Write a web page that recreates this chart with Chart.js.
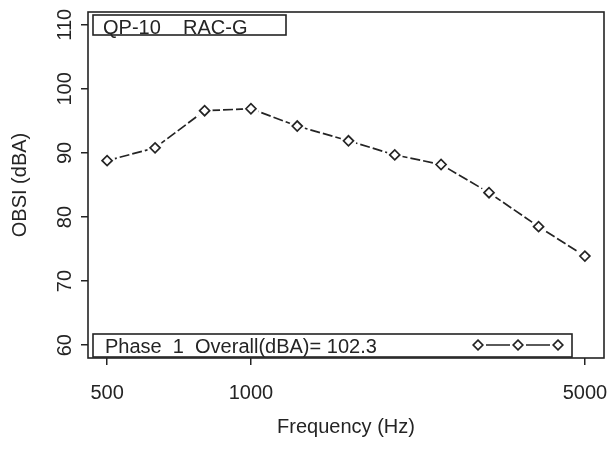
<!DOCTYPE html>
<html>
<head>
<meta charset="utf-8">
<script src="https://cdn.jsdelivr.net/npm/chart.js@4"></script>
<style>
html, body { margin: 0; padding: 0; background: #fff; }
</style>
</head>
<body>
<canvas id="obsiChart" width="612" height="449"></canvas>
<script>
// one-third octave bands and the OBSI levels
const freqs = [500, 630, 800, 1000, 1250, 1600, 2000, 2500, 3150, 4000, 5000];
const obsi = [88.8, 90.8, 96.6, 96.9, 94.2, 91.9, 89.7, 88.2, 83.8, 78.5, 73.9];
const xTicks = [500, 1000, 5000];
const yTicks = [60, 70, 80, 90, 100, 110];
const boxTitle = 'QP-10    RAC-G';
const legendText = 'Phase  1  Overall(dBA)= 102.3';

const FONT = '"Liberation Sans", Arial, sans-serif';
const INK = '#242424';

const points = freqs.map((f, i) => ({ x: f, y: obsi[i] }));

// R style 4% axis extension on the log x axis
const lx0 = Math.log10(Math.min(...freqs));
const lx1 = Math.log10(Math.max(...freqs));
const xPad = (lx1 - lx0) * 0.04;

function diamond(ctx, x, y, r) {
  ctx.beginPath();
  ctx.moveTo(x, y - r);
  ctx.lineTo(x + r, y);
  ctx.lineTo(x, y + r);
  ctx.lineTo(x - r, y);
  ctx.closePath();
  ctx.fillStyle = '#fff';
  ctx.fill();
  ctx.stroke();
}

// frame, rotated y labels, and the two boxed notes
const rFrame = {
  id: 'rFrame',
  afterDraw(chart) {
    const { ctx, chartArea: a, scales } = chart;
    ctx.save();
    ctx.strokeStyle = INK;
    ctx.lineWidth = 1.6;
    ctx.strokeRect(a.left, a.top, a.right - a.left, a.bottom - a.top);

    ctx.font = '20px ' + FONT;
    ctx.fillStyle = INK;
    ctx.textAlign = 'center';
    ctx.textBaseline = 'alphabetic';
    yTicks.forEach(v => {
      const y = scales.y.getPixelForValue(v);
      ctx.save();
      ctx.translate(a.left - 17, y);
      ctx.rotate(-Math.PI / 2);
      ctx.fillText(String(v), 0, 0);
      ctx.restore();
    });

    // top left box
    ctx.lineWidth = 1.6;
    ctx.fillStyle = '#fff';
    ctx.fillRect(a.left + 5, a.top + 3, 193, 20);
    ctx.strokeRect(a.left + 5, a.top + 3, 193, 20);
    ctx.fillStyle = INK;
    ctx.textAlign = 'left';
    ctx.fillText(boxTitle, a.left + 15, a.top + 22);

    // bottom legend box
    ctx.fillStyle = '#fff';
    ctx.fillRect(a.left + 5, a.bottom - 24, 479, 23);
    ctx.strokeRect(a.left + 5, a.bottom - 24, 479, 23);
    ctx.fillStyle = INK;
    ctx.fillText(legendText, a.left + 17, a.bottom - 5);

    const ly = a.bottom - 13;
    const lxs = [a.left + 390, a.left + 430, a.left + 470];
    ctx.lineWidth = 1.6;
    ctx.beginPath();
    for (let i = 0; i < lxs.length - 1; i++) {
      ctx.moveTo(lxs[i] + 8, ly);
      ctx.lineTo(lxs[i + 1] - 8, ly);
    }
    ctx.stroke();
    ctx.lineWidth = 1.7;
    lxs.forEach(x => diamond(ctx, x, ly, 4.8));
    ctx.restore();
  }
};

new Chart(document.getElementById('obsiChart'), {
  type: 'line',
  data: {
    datasets: [
      {
        // diamonds on top
        data: points,
        showLine: false,
        pointStyle: 'rectRot',
        pointRadius: 5,
        pointBorderWidth: 1.7,
        pointBorderColor: INK,
        pointBackgroundColor: '#fff',
        order: 1
      },
      {
        // white discs that open the gaps round each point (type = "b")
        data: points,
        showLine: false,
        pointStyle: 'circle',
        pointRadius: 8,
        pointBorderWidth: 0,
        pointBorderColor: '#fff',
        pointBackgroundColor: '#fff',
        order: 2
      },
      {
        data: points,
        borderColor: INK,
        borderWidth: 1.7,
        borderDash: [10, 3],
        pointRadius: 0,
        tension: 0,
        order: 3
      }
    ]
  },
  options: {
    responsive: false,
    animation: false,
    events: [],
    layout: { padding: { left: 0, right: 4, top: 12, bottom: 0 } },
    plugins: {
      legend: { display: false },
      tooltip: { enabled: false }
    },
    scales: {
      x: {
        type: 'logarithmic',
        min: Math.pow(10, lx0 - xPad),
        max: Math.pow(10, lx1 + xPad),
        afterBuildTicks: s => { s.ticks = xTicks.map(v => ({ value: v })); },
        afterFit: s => { s.height = 91; s.paddingLeft = 0; s.paddingRight = 0; },
        border: { display: false },
        grid: { drawOnChartArea: false, drawTicks: true, tickLength: 7, color: INK, lineWidth: 1.5 },
        ticks: {
          autoSkip: false,
          maxRotation: 0,
          padding: 16,
          color: INK,
          font: { family: FONT, size: 20 },
          callback: v => String(v)
        },
        title: {
          display: true,
          text: 'Frequency (Hz)',
          color: INK,
          font: { family: FONT, size: 20 },
          padding: { top: 0, bottom: 10 }
        }
      },
      y: {
        min: 58,
        max: 112,
        afterBuildTicks: s => { s.ticks = yTicks.map(v => ({ value: v })); },
        afterFit: s => { s.width = 88; s.paddingTop = 0; s.paddingBottom = 0; },
        border: { display: false },
        grid: { drawOnChartArea: false, drawTicks: true, tickLength: 7, color: INK, lineWidth: 1.5 },
        ticks: { display: false },
        title: {
          display: true,
          text: 'OBSI (dBA)',
          color: INK,
          font: { family: FONT, size: 20 },
          padding: { top: 8, bottom: 0 }
        }
      }
    }
  },
  plugins: [rFrame]
});
</script>
</body>
</html>
